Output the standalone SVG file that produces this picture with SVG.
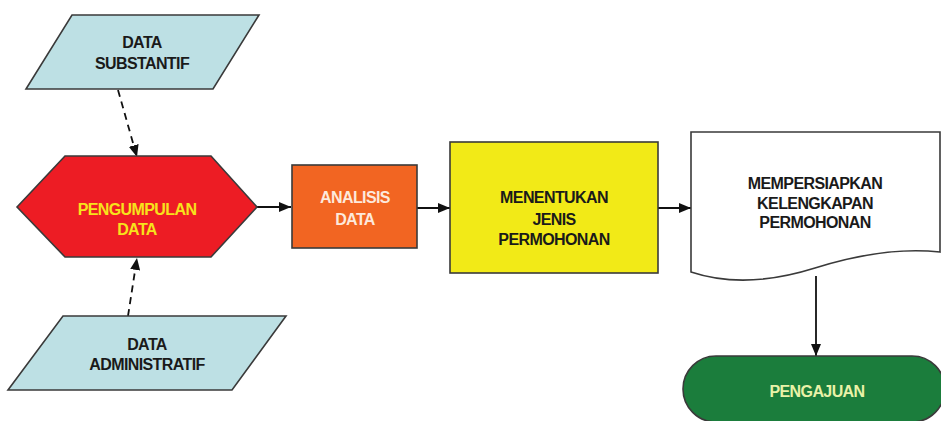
<svg xmlns="http://www.w3.org/2000/svg" width="941" height="421" viewBox="0 0 941 421">
<defs>
<style>
.sh{stroke:#3a3a3a;stroke-width:1.6;stroke-linejoin:miter}
.t{font-family:"Liberation Sans",Arial,sans-serif;font-weight:bold;font-size:16px;letter-spacing:-0.6px;text-anchor:middle}
.dk{fill:#1a1a1a}
.ln{stroke:#111;stroke-width:1.8;fill:none}
.dash{stroke-dasharray:7 5}
</style>
<marker id="ah" viewBox="0 0 12 10" refX="12" refY="5" markerWidth="12" markerHeight="10" markerUnits="userSpaceOnUse" orient="auto">
<path d="M0,0 L12,5 L0,10 Z" fill="#111"/>
</marker>
</defs>
<rect width="941" height="421" fill="#fff"/>
<g id="connectors">
<line class="ln dash" x1="118" y1="90" x2="137" y2="157" marker-end="url(#ah)"/>
<line class="ln dash" x1="128" y1="316" x2="137" y2="258" marker-end="url(#ah)"/>
<line class="ln" x1="257" y1="207" x2="291" y2="207" marker-end="url(#ah)"/>
<line class="ln" x1="417" y1="208" x2="450" y2="208" marker-end="url(#ah)"/>
<line class="ln" x1="658" y1="208" x2="691" y2="208" marker-end="url(#ah)"/>
<line class="ln" x1="816" y1="276" x2="816" y2="356" marker-end="url(#ah)"/>
</g>
<g id="data-substantif">
<polygon class="sh" points="72,15 259,15 213,89 26,89" fill="#bde0e4"/>
<text class="t dk" x="142" y="48">DATA</text>
<text class="t dk" x="142" y="69">SUBSTANTIF</text>
</g>
<g id="pengumpulan-data">
<polygon class="sh" points="17,207 65,156 211,156 257,207 211,257 65,257" fill="#ed1c24"/>
<text class="t" fill="#f7e21c" x="137" y="215">PENGUMPULAN</text>
<text class="t" fill="#f7e21c" x="137" y="235">DATA</text>
</g>
<g id="data-administratif">
<polygon class="sh" points="63,316 286,316 232,390 8,390" fill="#bde0e4"/>
<text class="t dk" x="147" y="350">DATA</text>
<text class="t dk" x="147" y="370">ADMINISTRATIF</text>
</g>
<g id="analisis-data">
<rect class="sh" x="292" y="165" width="125" height="83" fill="#f26522"/>
<text class="t" fill="#fde9dc" x="355" y="203">ANALISIS</text>
<text class="t" fill="#fde9dc" x="355" y="225">DATA</text>
</g>
<g id="menentukan-jenis">
<rect class="sh" x="450" y="142" width="208" height="131" fill="#f2ea17"/>
<text class="t dk" x="554" y="203">MENENTUKAN</text>
<text class="t dk" x="554" y="225">JENIS</text>
<text class="t dk" x="554" y="245">PERMOHONAN</text>
</g>
<g id="mempersiapkan">
<path class="sh" d="M691,132 L940,132 L940,252 Q885,246 815,268 Q745,290 691,272 Z" fill="#fff"/>
<text class="t dk" x="815" y="189">MEMPERSIAPKAN</text>
<text class="t dk" x="815" y="209">KELENGKAPAN</text>
<text class="t dk" x="815" y="228">PERMOHONAN</text>
</g>
<g id="pengajuan">
<rect class="sh" x="683" y="356" width="262" height="66" rx="33" ry="33" fill="#1b7d3c"/>
<text class="t" fill="#e9f2a8" x="817" y="397">PENGAJUAN</text>
</g>
</svg>
